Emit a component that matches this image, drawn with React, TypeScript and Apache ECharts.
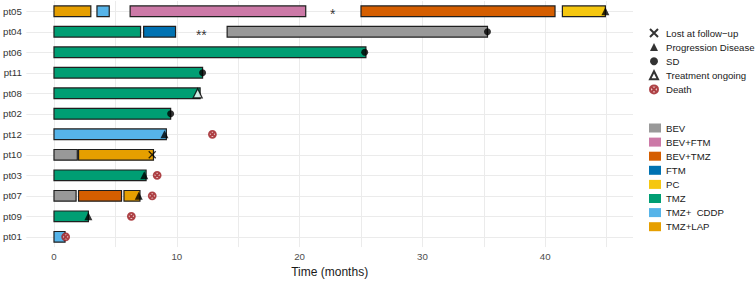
import React, { useEffect, useRef } from "react";
import * as echarts from "echarts";

// Patients, bottom to top
const patients = ["pt01", "pt09", "pt07", "pt03", "pt10", "pt12", "pt02", "pt08", "pt11", "pt06", "pt04", "pt05"];

const treatments = ["BEV", "BEV+FTM", "BEV+TMZ", "FTM", "PC", "TMZ", "TMZ+  CDDP", "TMZ+LAP"];
const treatmentColors = ["#999999", "#CC79A7", "#D55E00", "#0072B2", "#F5C710", "#009E73", "#56B4E9", "#E69F00"];

// [patient, treatment, start (months), end (months)]
const segments: [string, string, number, number][] = [
  ["pt05", "TMZ+LAP", 0, 3.0],
  ["pt05", "TMZ+  CDDP", 3.5, 4.5],
  ["pt05", "BEV+FTM", 6.2, 20.5],
  ["pt05", "BEV+TMZ", 25.0, 40.8],
  ["pt05", "PC", 41.4, 44.9],
  ["pt04", "TMZ", 0, 7.05],
  ["pt04", "FTM", 7.3, 9.9],
  ["pt04", "BEV", 14.1, 35.3],
  ["pt06", "TMZ", 0, 25.4],
  ["pt11", "TMZ", 0, 12.1],
  ["pt08", "TMZ", 0, 11.9],
  ["pt02", "TMZ", 0, 9.5],
  ["pt12", "TMZ+  CDDP", 0, 9.15],
  ["pt10", "BEV", 0, 1.9],
  ["pt10", "TMZ+LAP", 2.0, 8.1],
  ["pt03", "TMZ", 0, 7.5],
  ["pt07", "BEV", 0, 1.8],
  ["pt07", "BEV+TMZ", 2.0, 5.5],
  ["pt07", "TMZ+LAP", 5.7, 7.0],
  ["pt09", "TMZ", 0, 2.8],
  ["pt01", "TMZ+  CDDP", 0, 0.9],
];

// Events: [patient, time]
const lostAtFollowUp: [string, number][] = [["pt10", 8.0]];
const progression: [string, number][] = [
  ["pt05", 44.9], ["pt12", 9.0], ["pt03", 7.35], ["pt07", 6.9], ["pt09", 2.8],
];
const stableDisease: [string, number][] = [["pt04", 35.3], ["pt06", 25.3], ["pt11", 12.1], ["pt02", 9.5]];
const treatmentOngoing: [string, number][] = [["pt08", 11.7]];
const deaths: [string, number][] = [["pt12", 12.9], ["pt03", 8.4], ["pt07", 8.0], ["pt09", 6.3], ["pt01", 0.95]];
const annotations: [string, number, string][] = [["pt05", 22.7, "*"], ["pt04", 12.0, "**"]];

const xTickLabels = [0, 10, 20, 30, 40];
const xGridValues = [0, 5, 10, 15, 20, 25, 30, 35, 40, 45];

const FONT = "'Liberation Sans', Arial, Helvetica, sans-serif";
const X_PATH = "path://M0 0 L10 10 M10 0 L0 10";
const DEATH_PATH = "path://M0 10 A10 10 0 1 0 20 10 A10 10 0 1 0 0 10 Z M3 3 L17 17 M17 3 L3 17";

export default function App() {
  const ref = useRef<HTMLDivElement>(null);

  useEffect(() => {
    if (!ref.current) return;
    const chart = echarts.init(ref.current, null, { renderer: "svg" });

    const barSeries = treatments.map((t, i) => ({
      name: t,
      type: "custom",
      z: 3,
      itemStyle: { color: treatmentColors[i] },
      encode: { x: [0, 1], y: 2 },
      data: segments.filter((s) => s[1] === t).map((s) => [s[2], s[3], s[0]]),
      renderItem: (params: any, api: any) => {
        const yIdx = api.value(2);
        const s = api.coord([api.value(0), yIdx]);
        const e = api.coord([api.value(1), yIdx]);
        const h = api.size([0, 1])[1] * 0.52;
        return {
          type: "rect",
          shape: { x: s[0], y: s[1] - h / 2, width: e[0] - s[0], height: h },
          style: { fill: api.visual("color"), stroke: "#1f1f1f", lineWidth: 1.2 },
        };
      },
    }));

    const toPts = (arr: [string, number][]) => arr.map((d) => [d[1], d[0]]);
    const legendText = { fontSize: 9.6, color: "#1a1a1a", fontFamily: FONT };

    const option: any = {
      animation: false,
      textStyle: { fontFamily: FONT },
      grid: { left: 25, right: 123, top: 1, bottom: 30, containLabel: false },
      xAxis: {
        type: "value",
        min: -2.25,
        max: 47.15,
        name: "Time (months)",
        nameLocation: "middle",
        nameGap: 16,
        nameTextStyle: { fontSize: 12, color: "#1a1a1a", fontFamily: FONT },
        axisLine: { show: false },
        axisTick: { show: false, customValues: xGridValues },
        axisLabel: { customValues: xTickLabels, fontSize: 9.7, color: "#4d4d4d", margin: 4, fontFamily: FONT },
        splitLine: { show: true, lineStyle: { color: "#ebebeb", width: 1 } },
      },
      yAxis: {
        type: "category",
        data: patients,
        axisLine: { show: false },
        axisTick: { show: false },
        axisLabel: { fontSize: 9.7, color: "#333333", margin: 4.5, fontFamily: FONT },
        splitLine: { show: false },
      },
      legend: [
        {
          data: ["Lost at follow\u2212up", "Progression Disease", "SD", "Treatment ongoing", "Death"],
          orient: "vertical",
          left: 649,
          top: 28,
          itemWidth: 8,
          itemHeight: 8,
          itemGap: 4.1,
          padding: 0,
          selectedMode: false,
          textStyle: { ...legendText, padding: [0, 0, 0, 3] },
        },
        {
          data: treatments,
          icon: "rect",
          orient: "vertical",
          left: 649,
          top: 123,
          itemWidth: 12,
          itemHeight: 9,
          itemGap: 4.1,
          padding: 0,
          selectedMode: false,
          textStyle: legendText,
        },
      ],
      series: [
        {
          name: "gridRows",
          type: "scatter",
          z: 0,
          silent: true,
          symbolSize: 0,
          data: [[0, patients[0]]],
          markLine: {
            z: 0,
            silent: true,
            symbol: ["none", "none"],
            label: { show: false },
            emphasis: { disabled: true },
            lineStyle: { color: "#ebebeb", width: 1, type: "solid" },
            data: patients.map((p) => ({ yAxis: p })),
          },
        },
        ...barSeries,
        {
          name: "Lost at follow\u2212up",
          type: "scatter",
          z: 5,
          symbol: X_PATH,
          symbolSize: 7,
          itemStyle: { color: "#000", borderColor: "#000", borderWidth: 1.3 },
          data: toPts(lostAtFollowUp),
        },
        {
          name: "Progression Disease",
          type: "scatter",
          z: 5,
          symbol: "triangle",
          symbolSize: 8,
          itemStyle: { color: "#000" },
          data: toPts(progression),
        },
        {
          name: "SD",
          type: "scatter",
          z: 5,
          symbol: "circle",
          symbolSize: 7,
          itemStyle: { color: "#000" },
          data: toPts(stableDisease),
        },
        {
          name: "Treatment ongoing",
          type: "scatter",
          z: 5,
          symbol: "triangle",
          symbolSize: 9,
          itemStyle: { color: "#fff", borderColor: "#000", borderWidth: 1.3 },
          data: toPts(treatmentOngoing),
        },
        {
          name: "Death",
          type: "scatter",
          z: 6,
          symbol: DEATH_PATH,
          symbolSize: 7,
          itemStyle: { color: "#e6bcbc", borderColor: "#9c1a1f", borderWidth: 1.8 },
          data: toPts(deaths),
        },
        {
          name: "annot",
          type: "scatter",
          z: 5,
          symbolSize: 0,
          silent: true,
          data: annotations.map((a) => [a[1], a[0], a[2]]),
          label: {
            show: true,
            position: "inside",
            offset: [0, 3],
            formatter: (p: any) => p.data[2],
            fontSize: 14,
            color: "#000",
            fontFamily: FONT,
          },
        },
      ],
    };

    chart.setOption(option);
    return () => chart.dispose();
  }, []);

  return (
    <div
      ref={ref}
      style={{ position: "fixed", left: 0, top: 0, width: 756, height: 283, background: "#fff" }}
    />
  );
}
